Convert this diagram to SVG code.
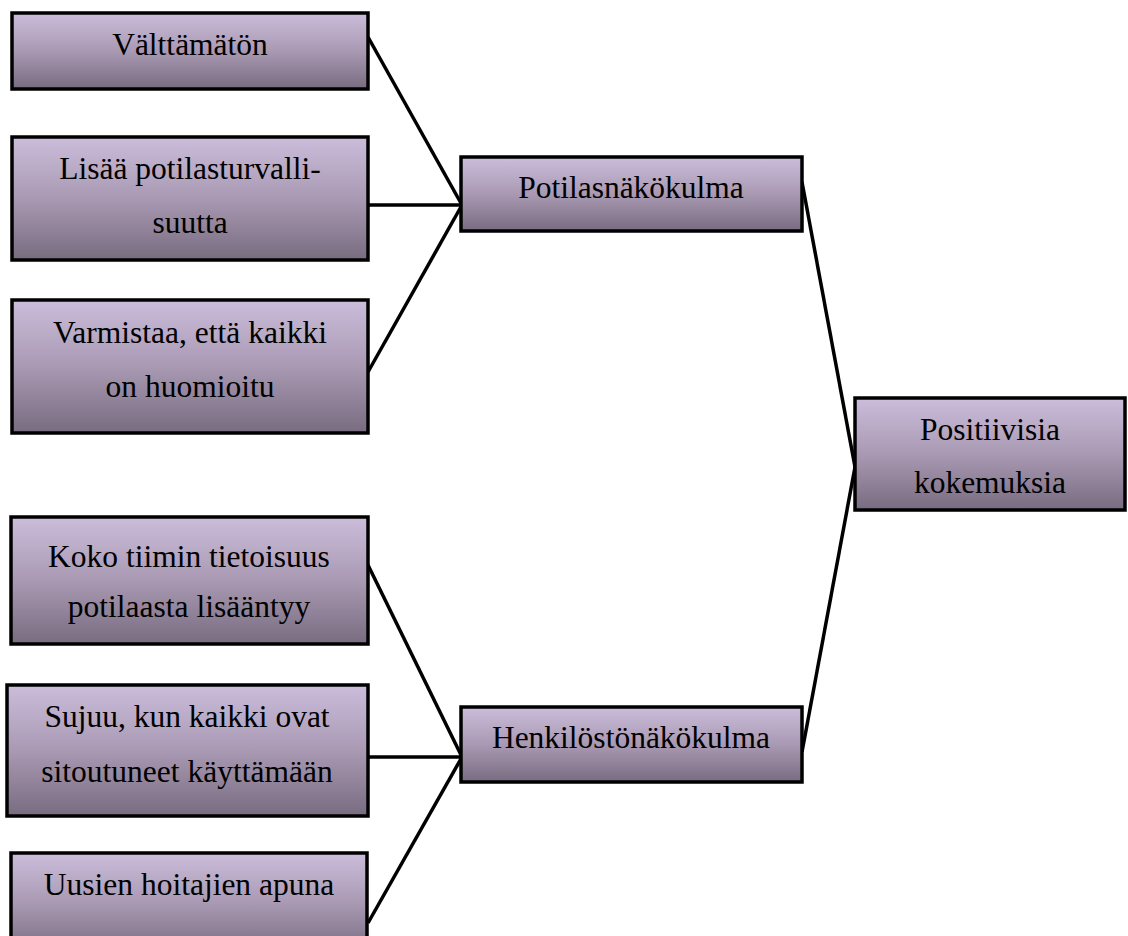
<svg xmlns="http://www.w3.org/2000/svg" width="1128" height="936" viewBox="0 0 1128 936">
<defs>
<linearGradient id="g" x1="0" y1="0" x2="0" y2="1">
<stop offset="0" stop-color="#cbbddb"/>
<stop offset="0.5" stop-color="#a999b3"/>
<stop offset="1" stop-color="#786c80"/>
</linearGradient>
<style>
.box{fill:url(#g);stroke:#000;stroke-width:3.5}
.t{font-family:"Liberation Serif","Times New Roman",serif;font-size:31.5px;fill:#000;text-anchor:middle}
.c{stroke:#000;stroke-width:3.5;fill:none}
</style>
</defs>
<rect width="1128" height="936" fill="#fff"/>
<g id="connectors">
<line class="c" x1="368" y1="37" x2="462" y2="205"/>
<line class="c" x1="368" y1="205" x2="462" y2="205"/>
<line class="c" x1="368" y1="372" x2="462" y2="205"/>
<line class="c" x1="802" y1="182" x2="855" y2="467"/>
<line class="c" x1="802" y1="752" x2="855" y2="467"/>
<line class="c" x1="368" y1="565" x2="462" y2="757"/>
<line class="c" x1="368" y1="757" x2="462" y2="757"/>
<line class="c" x1="368" y1="923" x2="462" y2="757"/>
</g>
<g id="n1"><rect class="box" x="12" y="13" width="356" height="76"/><text class="t" x="190" y="55">Välttämätön</text></g>
<g id="n2"><rect class="box" x="12" y="137" width="356" height="123"/><text class="t" x="190" y="179">Lisää potilasturvalli-</text><text class="t" x="190" y="233">suutta</text></g>
<g id="n3"><rect class="box" x="12" y="300" width="356" height="133"/><text class="t" x="190" y="343">Varmistaa, että kaikki</text><text class="t" x="190" y="397">on huomioitu</text></g>
<g id="n4"><rect class="box" x="11" y="517" width="357" height="127"/><text class="t" x="189" y="567">Koko tiimin tietoisuus</text><text class="t" x="189" y="617">potilaasta lisääntyy</text></g>
<g id="n5"><rect class="box" x="7" y="685" width="361" height="131"/><text class="t" x="187" y="727">Sujuu, kun kaikki ovat</text><text class="t" x="187" y="782">sitoutuneet käyttämään</text></g>
<g id="n6"><rect class="box" x="11" y="853" width="356" height="100"/><text class="t" x="189" y="895">Uusien hoitajien apuna</text></g>
<g id="n7"><rect class="box" x="461" y="157" width="341" height="74"/><text class="t" x="631" y="198">Potilasnäkökulma</text></g>
<g id="n8"><rect class="box" x="461" y="707" width="341" height="75"/><text class="t" x="631" y="748">Henkilöstönäkökulma</text></g>
<g id="n9"><rect class="box" x="855" y="398" width="270" height="112"/><text class="t" x="990" y="440">Positiivisia</text><text class="t" x="990" y="493">kokemuksia</text></g>
</svg>
